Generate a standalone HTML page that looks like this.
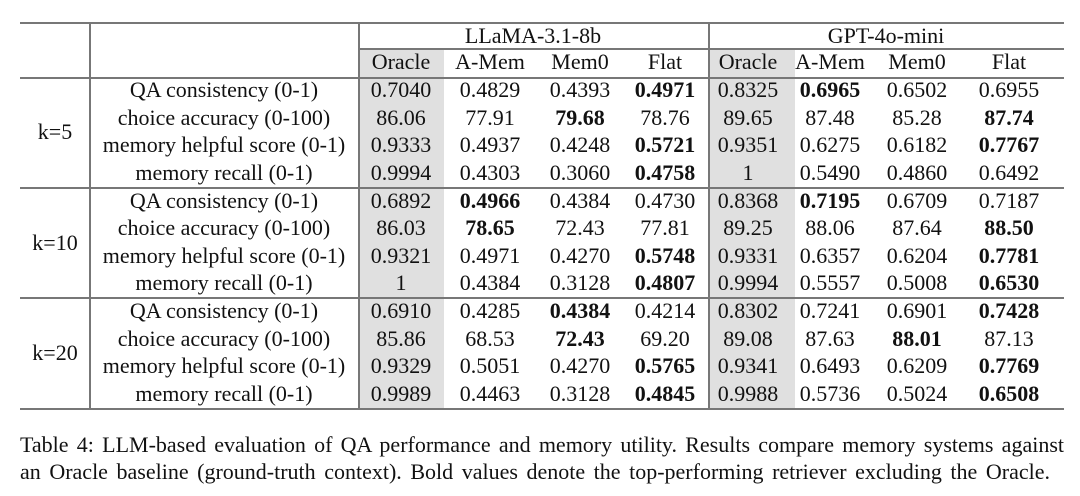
<!DOCTYPE html>
<html><head><meta charset="utf-8"><style>
body{margin:0;width:1080px;height:496px;background:#fff;position:relative;overflow:hidden;font-family:"Liberation Serif",serif;color:#111}
.h{position:absolute;background:#777;height:1.5px}
.v{position:absolute;background:#777;width:1.5px}
.g{position:absolute;background:#e0e0e0}
.t{position:absolute;font-size:22px;line-height:26px;white-space:nowrap;transform:translateX(-50%)}
b{font-weight:bold}
.cap{position:absolute;left:20px;width:1044px;font-size:22px;line-height:27px;text-align:justify;text-align-last:justify;white-space:nowrap}
</style></head><body>
<div class="g" style="left:358px;top:48px;width:86px;height:361px"></div>
<div class="g" style="left:708px;top:48px;width:87px;height:361px"></div>
<div class="h" style="left:20px;top:22px;width:1044px"></div>
<div class="h" style="left:358px;top:48px;width:706px"></div>
<div class="h" style="left:20px;top:77px;width:1044px"></div>
<div class="h" style="left:20px;top:187px;width:1044px"></div>
<div class="h" style="left:20px;top:297px;width:1044px"></div>
<div class="h" style="left:20px;top:408px;width:1044px"></div>
<div class="v" style="left:89px;top:22px;height:387px"></div>
<div class="v" style="left:358px;top:22px;height:387px"></div>
<div class="v" style="left:708px;top:22px;height:387px"></div>
<div id="c"></div>
<div class="cap" style="top:431px">Table 4: LLM-based evaluation of QA performance and memory utility. Results compare memory systems against</div>
<div class="cap" style="top:458px;width:1030px">an Oracle baseline (ground-truth context). Bold values denote the top-performing retriever excluding the Oracle.</div>
<script>
(function(){
var xs=[401,490,580,665,748,830,917,1009];
var html='';
function T(x,y,s){html+='<div class="t" style="left:'+x+'px;top:'+(y-13)+'px">'+s+'</div>';}
T(533,36,'LLaMA-3.1-8b');T(886,36,'GPT-4o-mini');
['Oracle','A-Mem','Mem0','Flat','Oracle','A-Mem','Mem0','Flat'].forEach(function(s,i){T(xs[i],62,s)});
var labels=['QA consistency (0-1)','choice accuracy (0-100)','memory helpful score (0-1)','memory recall (0-1)'];
var data=[
[['0.7040','0.4829','0.4393','*0.4971','0.8325','*0.6965','0.6502','0.6955'],
['86.06','77.91','*79.68','78.76','89.65','87.48','85.28','*87.74'],
['0.9333','0.4937','0.4248','*0.5721','0.9351','0.6275','0.6182','*0.7767'],
['0.9994','0.4303','0.3060','*0.4758','1','0.5490','0.4860','0.6492']],
[['0.6892','*0.4966','0.4384','0.4730','0.8368','*0.7195','0.6709','0.7187'],
['86.03','*78.65','72.43','77.81','89.25','88.06','87.64','*88.50'],
['0.9321','0.4971','0.4270','*0.5748','0.9331','0.6357','0.6204','*0.7781'],
['1','0.4384','0.3128','*0.4807','0.9994','0.5557','0.5008','*0.6530']],
[['0.6910','0.4285','*0.4384','0.4214','0.8302','0.7241','0.6901','*0.7428'],
['85.86','68.53','*72.43','69.20','89.08','87.63','*88.01','87.13'],
['0.9329','0.5051','0.4270','*0.5765','0.9341','0.6493','0.6209','*0.7769'],
['0.9989','0.4463','0.3128','*0.4845','0.9988','0.5736','0.5024','*0.6508']]];
var ks=['k=5','k=10','k=20'];
for(var g=0;g<3;g++){var y0=77+g*110.5;
 T(55,y0+55,ks[g]);
 for(var r=0;r<4;r++){var y=y0+13+r*27.6;
  T(224,y,labels[r]);
  data[g][r].forEach(function(s,i){T(xs[i],y,s[0]=='*'?'<b>'+s.slice(1)+'</b>':s)});
 }}
document.getElementById('c').innerHTML=html;
})();
</script>
</body></html>
